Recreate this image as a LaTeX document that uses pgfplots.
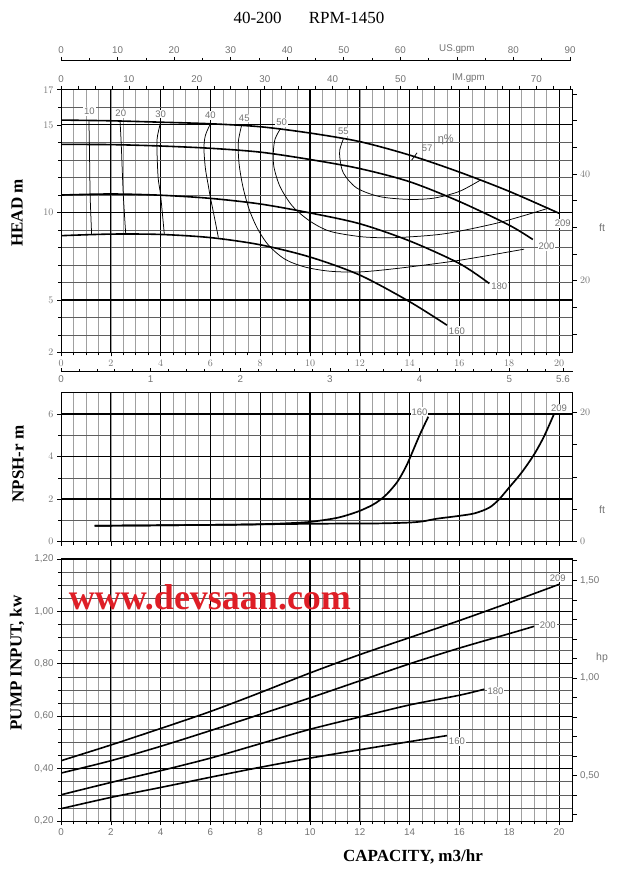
\documentclass[border=0pt]{standalone}
\usepackage{pgfplots}
\pgfplotsset{compat=1.18}
\usepackage{fontspec}
\usepackage{graphicx}
\setmainfont{Liberation Serif}
\newfontfamily\tickfont{Liberation Sans}
\definecolor{tg}{RGB}{115,115,115}
\definecolor{gridgray}{RGB}{160,160,160}
\definecolor{gridhgray}{RGB}{95,95,95}
\definecolor{wm}{RGB}{222,30,38}
\tikzset{
  tl/.style={font=\tickfont\fontsize{9.8}{10}\selectfont, text=tg},
  lab/.style={font=\tickfont\fontsize{9.5}{10}\selectfont, text=tg, fill=white, inner sep=1pt},
}
\pgfplotsset{
  panel/.style={
    scale only axis, width=511.7pt, xmin=0, xmax=20.55,
    axis line style={line width=1pt},
    xtick={0,2,...,20}, minor xtick={0.5,1,...,19.5},
    xtick pos=bottom, ytick pos=left,
    tick align=outside,
    major tick length=4pt, minor tick length=3pt,
    tick style={black, line width=0.6pt},
    grid=both,
    major grid style={black, line width=0.75pt},
    minor x grid style={gridgray, line width=0.45pt},
    minor y grid style={gridhgray, line width=0.45pt},
    ticklabel style={tl},
    extra x ticks={2,6,10,14,18}, extra x tick labels={},
    extra x tick style={grid=major, major grid style={black, line width=1.3pt}},
  },
  rightax/.style={
    scale only axis, width=511.7pt, xmin=0, xmax=1,
    axis x line=none, axis y line*=right, tick align=outside,
    major tick length=4pt, minor tick length=4pt,
    tick style={black, line width=0.6pt},
    axis line style={line width=1pt},
    ticklabel style={tl}, grid=none,
  },
  topax/.style={
    scale only axis, xmin=0, ymin=0, ymax=1, height=4pt,
    axis y line=none, tick style={black, line width=0.6pt},
    axis line style={line width=1pt},
    major tick length=4pt, minor tick length=3pt,
    ticklabel style={tl}, grid=none,
  },
  hq/.style={black, line width=1.6pt, smooth},
  eff/.style={black, line width=0.75pt, smooth},
}
\begin{document}
\begin{tikzpicture}
\path (0pt,0pt) rectangle (617pt,869pt);

% title
\node[font=\fontsize{17}{20}\selectfont] at (309pt,851pt) {40-200\hspace{1.6em}RPM-1450};

% US gpm scale
\begin{axis}[topax, at={(61pt,808pt)}, anchor=north west, width=509pt, xmax=90,
  axis x line*=top, tick align=outside,
  xtick={0,10,...,90}, xticklabels={0,10,20,30,40,50,60,US.gpm,80,90},
  minor xtick={5,15,...,85}]
\end{axis}

% IM gpm scale
\begin{axis}[topax, at={(61pt,779.2pt)}, anchor=north west, width=511.7pt, xmax=75.34,
  axis x line*=top, tick align=outside, minor tick length=4pt,
  xtick={0,10,...,70}, xticklabels={0,10,20,30,40,50,IM.gpm,70},
  minor xtick={2.5,5,...,75}]
\end{axis}

% l/s scale
\begin{axis}[topax, at={(61pt,497pt)}, anchor=south west, width=511.7pt, xmax=5.708,
  axis x line*=bottom, tick align=inside,
  xtick={0,1,2,3,4,5,5.6}, xticklabels={0,1,2,3,4,5,5.6},
  minor xtick={0.2,0.4,...,5.5}]
\node[tl, anchor=north, inner sep=2pt] at (axis cs:3.5,-0.45) {l/s};
\end{axis}

% ---------------- HEAD ----------------
\begin{axis}[panel, at={(61pt,516.5pt)}, anchor=south west, height=262.7pt,
  ymin=2, ymax=17, ytick={2,5,10,15,17},
  minor ytick={3,4,6,7,8,9,11,12,13,14,16},
  extra y ticks={5,10,15}, extra y tick labels={},
  extra y tick style={grid=major, major grid style={black, line width=1.3pt}}]
\addplot[hq] coordinates {(0,15.27) (2,15.23) (4,15.15) (6,15.06) (8,14.89) (10,14.53) (12,14.04) (14,13.27) (16,12.3) (18,11.2) (20,9.95)};
\addplot[hq] coordinates {(0,13.88) (2,13.87) (4,13.79) (6,13.66) (8,13.44) (10,13.02) (12,12.5) (14,11.75) (16,10.62) (18,9.27) (18.95,8.45)};
\addplot[hq] coordinates {(0,10.99) (2,11.05) (4,10.98) (6,10.8) (8,10.48) (10,9.97) (12,9.35) (14,8.37) (16,7.08) (17.2,5.94)};
\addplot[hq] coordinates {(0,8.67) (2,8.76) (4,8.74) (6,8.56) (8,8.15) (10,7.45) (12,6.42) (14,4.9) (15.5,3.56)};
% iso-efficiency
\addplot[eff] coordinates {(1.12,15.25) (1.14,13.9) (1.17,11.0) (1.23,8.75)};
\addplot[eff] coordinates {(2.37,15.23) (2.42,13.87) (2.5,11.05) (2.6,8.76)};
\addplot[eff] coordinates {(4.0,15.15) (3.88,14.4) (3.85,13.79) (3.9,12.0) (4.0,10.98) (4.15,8.74)};
\addplot[eff] coordinates {(6.0,15.06) (5.8,14.4) (5.74,13.66) (5.8,12.5) (5.92,11.5) (6.0,10.85) (6.15,9.8) (6.32,8.56)};
\addplot[eff] coordinates {(7.25,14.95) (7.12,14.0) (7.15,12.8) (7.3,11.5) (7.55,10.2) (7.9,9.05) (8.35,8.1) (9.0,7.32) (9.8,6.88) (10.8,6.64) (12,6.6) (13.5,6.8) (15.6,7.18) (17,7.5) (18.6,7.9)};
\addplot[eff] coordinates {(8.8,14.75) (8.6,14.2) (8.53,13.5) (8.55,12.6) (8.8,11.46) (9.3,10.35) (10,9.5) (10.8,8.92) (12,8.62) (13,8.55) (14,8.6) (15.5,8.8) (17.6,9.42) (19.6,10.25)};
\addplot[eff] coordinates {(11.34,14.2) (11.2,13.6) (11.2,13.1) (11.34,12.25) (11.87,11.4) (12.8,10.9) (14,10.74) (15,10.82) (16,11.2) (16.85,11.85)};
\addplot[black, line width=0.75pt] coordinates {(14.08,12.98) (14.3,13.4)};
\node[lab] at (axis cs:1.14,15.75) {10};
\node[lab] at (axis cs:2.4,15.65) {20};
\node[lab] at (axis cs:4.0,15.62) {30};
\node[lab] at (axis cs:6.0,15.52) {40};
\node[lab] at (axis cs:7.36,15.38) {45};
\node[lab] at (axis cs:8.86,15.15) {50};
\node[lab] at (axis cs:11.34,14.62) {55};
\node[lab, fill=none] at (axis cs:14.7,13.66) {57};
\node[lab, fill=none, font=\tickfont\fontsize{11}{12}\selectfont] at (axis cs:15.45,14.15) {η\%};
\node[lab] at (axis cs:20.15,9.37) {209};
\node[lab] at (axis cs:19.5,8.06) {200};
\node[lab] at (axis cs:17.6,5.8) {180};
\node[lab] at (axis cs:15.9,3.24) {160};
\node[tl, anchor=north, inner sep=0pt] at (axis cs:14.95,1.65) {m3/h};
\end{axis}
\begin{axis}[rightax, at={(61pt,516.5pt)}, anchor=south west, height=262.7pt,
  ymin=6.5617, ymax=55.774, ytick={20,40}, minor ytick={10,15,25,30,35,45,50,55}]
\end{axis}

% ---------------- NPSH ----------------
\begin{axis}[panel, at={(61pt,327.3pt)}, anchor=south west, height=149pt,
  ymin=0, ymax=7, ytick={0,2,4,6}, minor ytick={1,3,5}, xticklabels={},
  extra y ticks={2,4,6}, extra y tick labels={},
  extra y tick style={grid=major, major grid style={black, line width=1.3pt}}]
\addplot[hq, line width=1.7pt] coordinates {(1.35,0.75) (3,0.76) (5,0.78) (7,0.8) (8,0.82) (9,0.86) (10,0.93) (11,1.1) (11.5,1.25) (12,1.45) (12.5,1.72) (12.8,1.95) (13.1,2.25) (13.5,2.8) (13.8,3.4) (14,3.9) (14.4,5.0) (14.75,5.87)};
\addplot[hq, line width=1.7pt] coordinates {(1.35,0.75) (3,0.76) (5,0.78) (7,0.8) (9,0.83) (11,0.85) (12.8,0.86) (14,0.9) (14.55,0.96) (15.1,1.08) (15.9,1.2) (16.6,1.33) (17.2,1.6) (17.6,2.0) (18,2.55) (18.5,3.25) (19,4.1) (19.4,4.95) (19.8,6.0)};
\node[lab] at (axis cs:14.4,6.1) {160};
\node[lab] at (axis cs:20.0,6.25) {209};
\end{axis}
\begin{axis}[rightax, at={(61pt,327.3pt)}, anchor=south west, height=149pt,
  ymin=0, ymax=22.966, ytick={0,20}, minor ytick={5,10,15}]
\end{axis}

% ---------------- POWER ----------------
\begin{axis}[panel, at={(61pt,48pt)}, anchor=south west, height=262pt,
  ymin=0.2, ymax=1.2, ytick={0.2,0.4,0.6,0.8,1.0,1.2},
  yticklabels={{0,20},{0,40},{0,60},{0,80},{1,00},{1,20}},
  minor ytick={0.25,0.3,0.35,0.45,0.5,0.55,0.65,0.7,0.75,0.85,0.9,0.95,1.05,1.1,1.15},
  xticklabels={0,2,4,6,8,10,12,14,16,18,20}]
\addplot[hq] coordinates {(0,0.43) (2,0.49) (4,0.553) (6,0.618) (8,0.69) (10,0.765) (12,0.835) (14,0.9) (16,0.965) (18,1.033) (20,1.103)};
\addplot[hq] coordinates {(0,0.383) (2,0.43) (4,0.485) (6,0.545) (8,0.607) (10,0.67) (12,0.735) (14,0.8) (16,0.86) (18,0.915) (19,0.943)};
\addplot[hq] coordinates {(0,0.30) (2,0.347) (4,0.392) (6,0.44) (8,0.495) (10,0.55) (12,0.597) (14,0.643) (16,0.68) (17,0.703)};
\addplot[hq] coordinates {(0,0.247) (2,0.29) (4,0.328) (6,0.367) (8,0.405) (10,0.44) (12,0.472) (14,0.503) (15.5,0.526)};
\node[lab] at (axis cs:19.95,1.127) {209};
\node[lab] at (axis cs:19.55,0.948) {200};
\node[lab] at (axis cs:17.45,0.694) {180};
\node[lab] at (axis cs:15.9,0.503) {160};
\end{axis}
\begin{axis}[rightax, at={(61pt,48pt)}, anchor=south west, height=262pt,
  ymin=0.26820, ymax=1.60922, ytick={0.5,1.0,1.5},
  yticklabels={{0,50},{1,00},{1,50}},
  minor ytick={0.3,0.4,0.6,0.7,0.8,0.9,1.1,1.2,1.3,1.4,1.6}]
\end{axis}

% unit labels on the right
\node[tl, font=\tickfont\fontsize{10.5}{11}\selectfont] at (602pt,641pt) {ft};
\node[tl, font=\tickfont\fontsize{10.5}{11}\selectfont] at (602pt,359pt) {ft};
\node[tl, font=\tickfont\fontsize{10.5}{11}\selectfont] at (602pt,211pt) {hp};

% axis titles
\node[rotate=90, font=\bfseries\fontsize{17}{20}\selectfont] at (17pt,656pt) {HEAD m};
\node[rotate=90, font=\bfseries\fontsize{17}{20}\selectfont] at (18pt,405pt) {NPSH-r m};
\node[rotate=90, font=\bfseries\fontsize{17}{20}\selectfont] at (17pt,206pt) {PUMP INPUT, kw};
\node[font=\bfseries\fontsize{17}{20}\selectfont] at (413pt,12pt) {CAPACITY, m3/hr};

% watermark
\node[text=wm, font=\bfseries\fontsize{36}{40}\selectfont] at (210pt,272pt) {www.devsaan.com};
\end{tikzpicture}
\end{document}
